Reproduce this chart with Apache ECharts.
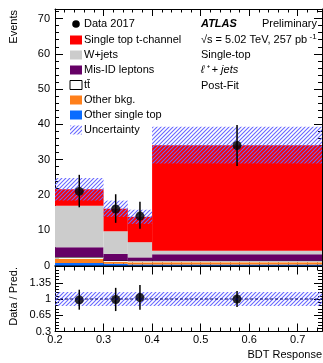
<!DOCTYPE html>
<html>
<head>
<meta charset="utf-8">
<script src="https://cdn.jsdelivr.net/npm/echarts@6/dist/echarts.min.js"></script>
<style>
  html, body { margin: 0; padding: 0; background: #fff; }
  #chart { width: 323px; height: 363px; }
</style>
</head>
<body>
<div id="chart"></div>
<script>
// bins of the BDT response
const binEdges = [0.2, 0.3, 0.35, 0.4, 0.75]
// stacked predictions, bottom to top
const otherSingleTop = [0.7, 0.5, 0.3, 0.3]
const otherBkg = [1.2, 0.5, 0.6, 0.6]
const ttbar = [0.5, 0.4, 0.45, 0.45]
const misID = [2.8, 1.9, 0.95, 1.85]
const wjets = [11.7, 6.4, 4.3, 1.0]
const tchannel = [4.7, 6.4, 7.2, 29.9]
const uncertainty = [3.2, 2.3, 2.0, 5.2]
// data
const dataX = [0.25, 0.325, 0.375, 0.575]
const dataY = [21, 16, 14, 34]
const dataErrLow = [4.5, 3.9, 3.6, 5.8]
const dataErrHigh = [4.7, 4.2, 4.1, 5.8]
// ratio panel
const ratio = [0.98, 0.99, 1.03, 1.0]
const ratioErrLow = [0.21, 0.25, 0.26, 0.17]
const ratioErrHigh = [0.22, 0.25, 0.27, 0.17]
const ratioUnc = [0.15, 0.15, 0.15, 0.15]
// tick labels
const xTicks = [0.2, 0.3, 0.4, 0.5, 0.6, 0.7]
const yTicks = [0, 10, 20, 30, 40, 50, 60, 70]
const ratioTicks = [0.3, 0.65, 1, 1.35]

const FONT = 'Liberation Sans, Arial, Helvetica, sans-serif'
const X_MIN = 0.2, X_MAX = 0.75, Y_MAX = 72.7, R_MIN = 0.3, R_MAX = 1.7

const steps = (a, b, s) => {
  const out = []
  for (let v = a; v <= b + 1e-9; v += s) out.push(Math.round(v * 1000) / 1000)
  return out
}

// hatch pattern for the uncertainty band (//// lines, blue)
const hatch = document.createElement('canvas')
hatch.width = 8
hatch.height = 8
const hc = hatch.getContext('2d')
hc.strokeStyle = '#6868ff'
hc.lineWidth = 1.1
hc.beginPath()
for (let k = -8; k <= 16; k += 4) {
  hc.moveTo(k - 1, 9)
  hc.lineTo(k + 9, -1)
}
hc.stroke()
const hatchFill = { image: hatch, repeat: 'repeat' }

const components = [
  { vals: otherSingleTop, color: '#0a6cff' },
  { vals: otherBkg, color: '#ff7f1a' },
  { vals: ttbar, color: '#ffffff', top: '#000' },
  { vals: misID, color: '#660066' },
  { vals: wjets, color: '#cccccc' },
  { vals: tchannel, color: '#ff0000' },
]

const rectItem = (fill, topLine) => (params, api) => {
  const p0 = api.coord([api.value(0), api.value(3)])
  const p1 = api.coord([api.value(1), api.value(2)])
  const children = [{
    type: 'rect',
    shape: { x: p0[0], y: p0[1], width: p1[0] - p0[0], height: p1[1] - p0[1] },
    style: { fill: fill },
  }]
  if (topLine) {
    children.push({ type: 'line', shape: { x1: p0[0], y1: p0[1], x2: p1[0], y2: p0[1] }, style: { stroke: topLine, lineWidth: 1 } })
  }
  return { type: 'group', children }
}

const errItem = (params, api) => {
  const a = api.coord([api.value(0), api.value(1) - api.value(2)])
  const b = api.coord([api.value(0), api.value(1) + api.value(3)])
  return { type: 'line', shape: { x1: a[0], y1: a[1], x2: b[0], y2: b[1] }, style: { stroke: '#000', lineWidth: 1.5 } }
}

const series = []
let base = [0, 0, 0, 0]
components.forEach((c) => {
  const d = c.vals.map((v, i) => [binEdges[i], binEdges[i + 1], base[i], base[i] + v])
  base = base.map((b, i) => b + c.vals[i])
  series.push({ type: 'custom', xAxisIndex: 0, yAxisIndex: 0, data: d, encode: { x: [0, 1], y: [2, 3] }, renderItem: rectItem(c.color, c.top), silent: true })
})
const total = base
series.push({
  type: 'custom', xAxisIndex: 0, yAxisIndex: 0, silent: true,
  data: total.map((t, i) => [binEdges[i], binEdges[i + 1], t - uncertainty[i], t + uncertainty[i]]),
  encode: { x: [0, 1], y: [2, 3] }, renderItem: rectItem(hatchFill),
})
series.push({
  type: 'custom', xAxisIndex: 0, yAxisIndex: 0, silent: true,
  data: dataX.map((x, i) => [x, dataY[i], dataErrLow[i], dataErrHigh[i]]),
  encode: { x: 0, y: 1 }, renderItem: errItem,
})
series.push({
  type: 'scatter', xAxisIndex: 0, yAxisIndex: 0, symbolSize: 9, itemStyle: { color: '#000' },
  data: dataX.map((x, i) => [x, dataY[i]]),
})
// ratio panel
series.push({
  type: 'custom', xAxisIndex: 4, yAxisIndex: 4, silent: true,
  data: ratioUnc.map((u, i) => [binEdges[i], binEdges[i + 1], 1 - u, 1 + u]),
  encode: { x: [0, 1], y: [2, 3] }, renderItem: rectItem(hatchFill),
})
series.push({
  type: 'line', xAxisIndex: 4, yAxisIndex: 4, symbol: 'none', silent: true,
  data: [[X_MIN, 1], [X_MAX, 1]],
  lineStyle: { color: '#000066', width: 1, type: [3, 2] },
})
series.push({
  type: 'custom', xAxisIndex: 4, yAxisIndex: 4, silent: true,
  data: dataX.map((x, i) => [x, ratio[i], ratioErrLow[i], ratioErrHigh[i]]),
  encode: { x: 0, y: 1 }, renderItem: errItem,
})
series.push({
  type: 'scatter', xAxisIndex: 4, yAxisIndex: 4, symbolSize: 9, itemStyle: { color: '#000' },
  data: dataX.map((x, i) => [x, ratio[i]]),
})

// frame axes: one axis for major ticks, one for minor ticks, on every side
const axis = (gridIndex, position, min, max, ticks, len, labels, fmt) => ({
  type: 'value', gridIndex, position, min, max,
  splitLine: { show: false },
  axisLine: { show: !!len.line, onZero: false, lineStyle: { color: '#000', width: 1 } },
  axisTick: { show: true, inside: true, length: len.l, customValues: ticks, lineStyle: { color: '#000', width: 1 } },
  axisLabel: labels
    ? { show: true, customValues: labels, formatter: fmt, color: '#000', fontSize: 11, fontFamily: FONT, margin: len.m }
    : { show: false },
})
const xMajor = steps(0.2, 0.7, 0.1), xMinor = steps(0.2, 0.74, 0.02)
const xFmt = (v) => String(+v.toFixed(2))
const xAxes = [
  axis(0, 'bottom', X_MIN, X_MAX, xMajor, { l: 7, line: 1 }),
  axis(0, 'bottom', X_MIN, X_MAX, xMinor, { l: 3.5 }),
  axis(0, 'top', X_MIN, X_MAX, xMajor, { l: 7, line: 1 }),
  axis(0, 'top', X_MIN, X_MAX, xMinor, { l: 3.5 }),
  axis(1, 'bottom', X_MIN, X_MAX, xMajor, { l: 8, line: 1, m: 3 }, xTicks, xFmt),
  axis(1, 'bottom', X_MIN, X_MAX, xMinor, { l: 4 }),
  axis(1, 'top', X_MIN, X_MAX, xMajor, { l: 8, line: 1 }),
  axis(1, 'top', X_MIN, X_MAX, xMinor, { l: 4 }),
]
const yMajor = steps(0, 70, 10), yMinor = steps(0, 72, 2)
const rMajor = steps(0.3, 1.7, 0.35), rMinor = steps(0.3, 1.7, 0.07)
const yAxes = [
  axis(0, 'left', 0, Y_MAX, yMajor, { l: 8, line: 1, m: 5 }, yTicks, (v) => String(v)),
  axis(0, 'left', 0, Y_MAX, yMinor, { l: 4 }),
  axis(0, 'right', 0, Y_MAX, yMajor, { l: 8, line: 1 }),
  axis(0, 'right', 0, Y_MAX, yMinor, { l: 4 }),
  axis(1, 'left', R_MIN, R_MAX, rMajor, { l: 8, line: 1, m: 4 }, ratioTicks, xFmt),
  axis(1, 'left', R_MIN, R_MAX, rMinor, { l: 4 }),
  axis(1, 'right', R_MIN, R_MAX, rMajor, { l: 8, line: 1 }),
  axis(1, 'right', R_MIN, R_MAX, rMinor, { l: 4 }),
]

// legend and labels
const legendRows = [
  { label: 'Single top t-channel', fill: '#ff0000' },
  { label: 'W+jets', fill: '#cccccc' },
  { label: 'Mis-ID leptons', fill: '#660066' },
  { label: 't\u0074\u0304', fill: '#ffffff', stroke: '#000' },
  { label: 'Other bkg.', fill: '#ff7f1a' },
  { label: 'Other single top', fill: '#0a6cff' },
  { label: 'Uncertainty', fill: hatchFill },
]
const txt = (x, y, text, extra) => ({
  type: 'text', x, y,
  style: Object.assign({ text, fill: '#000', font: '11px ' + FONT, verticalAlign: 'middle' }, extra || {}),
})
const graphic = [
  { type: 'circle', shape: { cx: 76, cy: 24, r: 3.8 }, style: { fill: '#000' } },
  txt(84, 24, 'Data 2017'),
]
legendRows.forEach((r, i) => {
  const cy = 40 + i * 15
  graphic.push({ type: 'rect', shape: { x: 70, y: cy - 4.5, width: 12, height: 9 }, style: { fill: r.fill, stroke: r.stroke || null, lineWidth: 1 } })
  graphic.push(txt(84, cy, r.label))
})
graphic.push(
  txt(201, 24, 'ATLAS', { font: 'italic bold 11px ' + FONT }),
  txt(317, 24, 'Preliminary', { align: 'right' }),
  {
    type: 'text', x: 201, y: 40,
    style: {
      text: '{a|\u221As = 5.02 TeV, 257 pb}{s| -1}', verticalAlign: 'middle',
      rich: {
        a: { font: '11px ' + FONT, fill: '#000' },
        s: { font: '8px ' + FONT, fill: '#000', verticalAlign: 'top', padding: [0, 0, 6, 0] },
      },
    },
  },
  txt(201, 55, 'Single-top'),
  txt(201, 70, '\u2113\u207A + jets', { font: 'italic 11px ' + FONT }),
  txt(201, 86, 'Post-Fit'),
  txt(14, 10, 'Events', { align: 'right' }),
  txt(14, 267, 'Data / Pred.', { align: 'right' }),
  txt(322, 355, 'BDT Response', { align: 'right' })
)
graphic[graphic.length - 3].rotation = Math.PI / 2
graphic[graphic.length - 2].rotation = Math.PI / 2

const chart = echarts.init(document.getElementById('chart'))
chart.setOption({
  animation: false,
  backgroundColor: '#fff',
  grid: [
    { left: 55, top: 9, width: 267, height: 256.5 },
    { left: 55, top: 266.5, width: 267, height: 65 },
  ],
  xAxis: xAxes,
  yAxis: yAxes,
  series,
  graphic,
})
</script>
</body>
</html>
